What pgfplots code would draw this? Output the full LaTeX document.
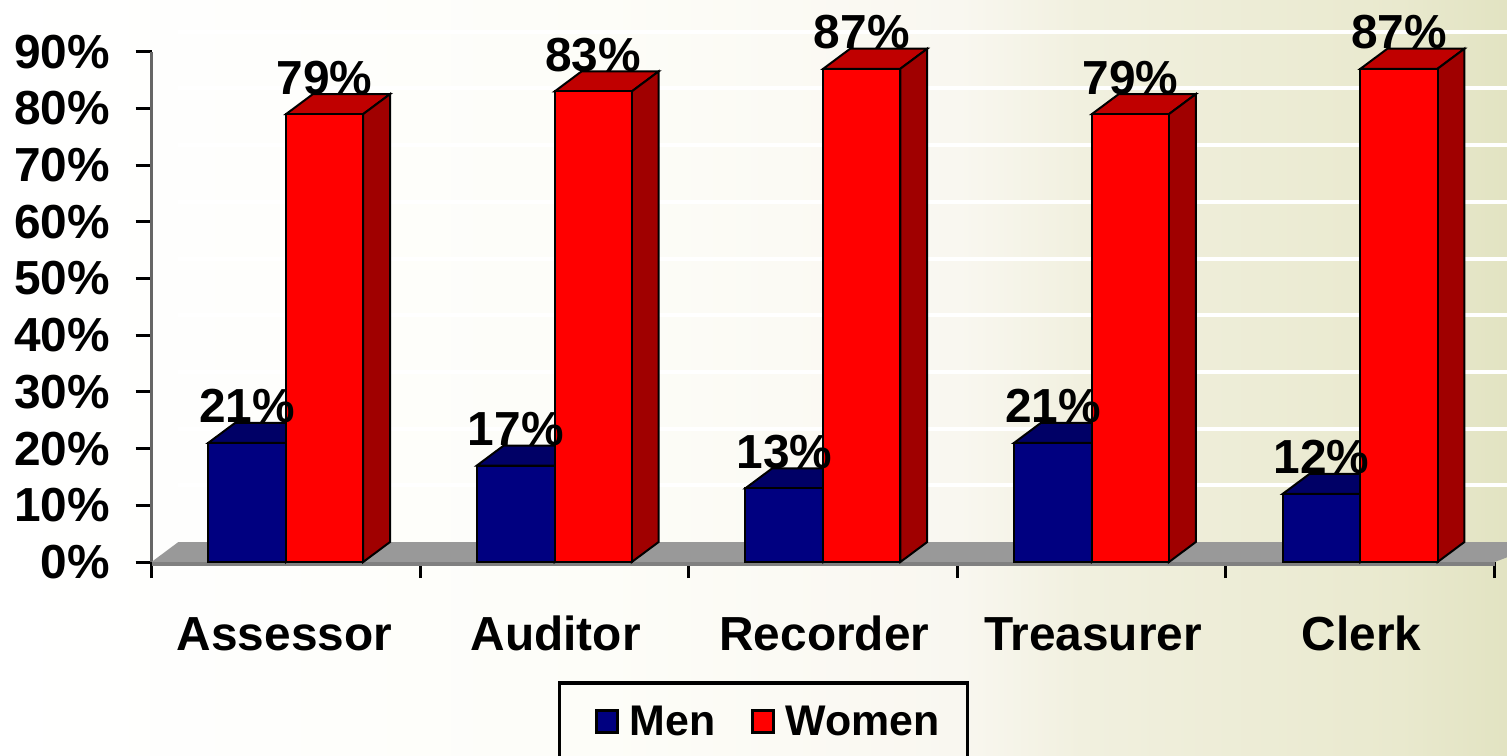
\documentclass[border=0pt]{standalone}
\usepackage{fontspec}
\setmainfont{Liberation Sans}
\usepackage{pgfplots}
\pgfplotsset{compat=1.18}

\definecolor{menfront}{HTML}{000080}
\definecolor{mentop}{HTML}{000066}
\definecolor{womenfront}{HTML}{FF0000}
\definecolor{womentop}{HTML}{C00000}
\definecolor{womenside}{HTML}{A00000}
\definecolor{bgA}{HTML}{FFFFFF}
\definecolor{bgB}{HTML}{FDFDF8}
\definecolor{bgC}{HTML}{F9F7F0}
\definecolor{bgD}{HTML}{F1F0DF}
\definecolor{bgE}{HTML}{E9E9CE}
\definecolor{bgF}{HTML}{E2E3C2}

\newcommand{\chartfont}{\fontsize{13.6}{15}\bfseries\selectfont}
\newcommand{\depthx}{0.1}
\newcommand{\depthy}{3.53}

% top and side face of one bar: left, right, value, top colour, side colour
\newcommand{\barfaces}[5]{%
  \pgfmathsetmacro{\xa}{#1+\depthx}
  \pgfmathsetmacro{\xb}{#2+\depthx}
  \pgfmathsetmacro{\yb}{#3+\depthy}
  \addplot[draw=black, line width=0.2mm, fill=#4, forget plot]
    coordinates {(#1,#3) (\xa,\yb) (\xb,\yb) (#2,#3)} --cycle;
  \addplot[draw=black, line width=0.2mm, fill=#5, forget plot]
    coordinates {(#2,#3) (\xb,\yb) (\xb,\depthy) (#2,0)} --cycle;
}
% white line on the back wall
\newcommand{\wallline}[1]{%
  \addplot[white, line width=0.4mm, forget plot] coordinates {(0.1,#1) (5.1,#1)};
}
% one band of the slide background: from, to (mm), left and right colour
\newcommand{\bgband}[4]{%
  \shade[left color=#3, right color=#4] (#1mm,0) rectangle (#2mm,75.5mm);
}

\begin{document}
\begin{tikzpicture}
\path[use as bounding box] (0,0) rectangle (150.7mm,75.5mm);
\bgband{0}{60.1}{bgA}{bgB}
\bgband{60}{96.1}{bgB}{bgC}
\bgband{96}{108.1}{bgC}{bgD}
\bgband{108}{140.1}{bgD}{bgE}
\bgband{140}{150.7}{bgE}{bgF}
\begin{axis}[
    at={(15.15mm,19.3mm)}, anchor=south west,
    scale only axis,
    width=134.3mm, height=51.03mm,
    xmin=0, xmax=5, ymin=0, ymax=90,
    clip=false,
    axis x line*=bottom, axis y line*=left,
    axis line style={draw=black!60, line width=0.3mm, -},
    xtick={0,1,2,3,4,5}, xticklabels={},
    extra x ticks={0.495,1.505,2.505,3.505,4.505},
    extra x tick labels={Assessor,Auditor,Recorder,Treasurer,Clerk},
    extra x tick style={major tick length=0pt,
      tick label style={yshift=-4.2mm, text height=3.4mm, text depth=0pt}},
    ytick={0,10,...,90},
    yticklabel={\pgfmathprintnumber{\tick}\%},
    /pgf/number format/assume math mode=true,
    tick label style={font=\chartfont, text=black},
    major tick length=1.6mm,
    tick align=outside,
    major tick style={draw=black, line width=0.3mm},
    yticklabel style={xshift=-1.3mm},
    legend style={at={(0.3025,-0.2335)}, anchor=north west,
      draw=black, line width=0.35mm, fill=none,
      font=\fontsize{12.2}{14}\bfseries\selectfont,
      inner xsep=2.1mm, inner ysep=1.6mm,
      nodes={text depth=3mm},
      legend columns=2,
      /tikz/every even column/.append style={column sep=1.4mm}},
    legend cell align=left,
    legend image code/.code={
      \path[draw=none, fill=none] (-1.6mm,0) -- (2.6mm,0);
      \draw[#1, draw=black, line width=0.3mm] (0mm,0.35mm) rectangle (2.1mm,2.55mm);},
  ]
  % back wall lines
  \wallline{13.53}\wallline{23.53}\wallline{33.53}
  \wallline{43.53}\wallline{53.53}\wallline{63.53}
  \wallline{73.53}\wallline{83.53}\wallline{93.53}

  % floor
  \addplot[draw=none, fill=black!40, forget plot]
    coordinates {(0,0) (0.1,3.53) (5.2,3.53) (5,0)} --cycle;
  \addplot[draw=none, fill=black!50, forget plot]
    coordinates {(0,0) (5,0) (5,-0.7) (0,-0.7)} --cycle;

  % men
  \barfaces{0.211}{0.501}{21}{mentop}{mentop}
  \barfaces{1.211}{1.501}{17}{mentop}{mentop}
  \barfaces{2.211}{2.501}{13}{mentop}{mentop}
  \barfaces{3.211}{3.501}{21}{mentop}{mentop}
  \barfaces{4.211}{4.501}{12}{mentop}{mentop}
  \addplot[ybar, bar width=0.29, bar shift=-0.144, draw=black, line width=0.2mm, fill=menfront]
    coordinates {(0.5,21) (1.5,17) (2.5,13) (3.5,21) (4.5,12)};
  \addlegendentry{Men}

  % women
  \barfaces{0.501}{0.788}{79}{womentop}{womenside}
  \barfaces{1.501}{1.788}{83}{womentop}{womenside}
  \barfaces{2.501}{2.788}{87}{womentop}{womenside}
  \barfaces{3.501}{3.788}{79}{womentop}{womenside}
  \barfaces{4.501}{4.788}{87}{womentop}{womenside}
  \addplot[ybar, bar width=0.287, bar shift=0.1445, draw=black, line width=0.2mm, fill=womenfront]
    coordinates {(0.5,79) (1.5,83) (2.5,87) (3.5,79) (4.5,87)};
  \addlegendentry{Women}

  % value labels, over the bars
  \addplot[draw=none, mark=none, forget plot,
    nodes near coords={\pgfmathprintnumber\pgfplotspointmeta\%},
    every node near coord/.append style={font=\chartfont, text=black,
      anchor=base, inner sep=0pt, yshift=2mm}]
    coordinates {(0.356,21) (1.356,17) (2.356,13) (3.356,21) (4.356,12)
                 (0.6445,79) (1.6445,83) (2.6445,87) (3.6445,79) (4.6445,87)};
\end{axis}
\end{tikzpicture}
\end{document}
